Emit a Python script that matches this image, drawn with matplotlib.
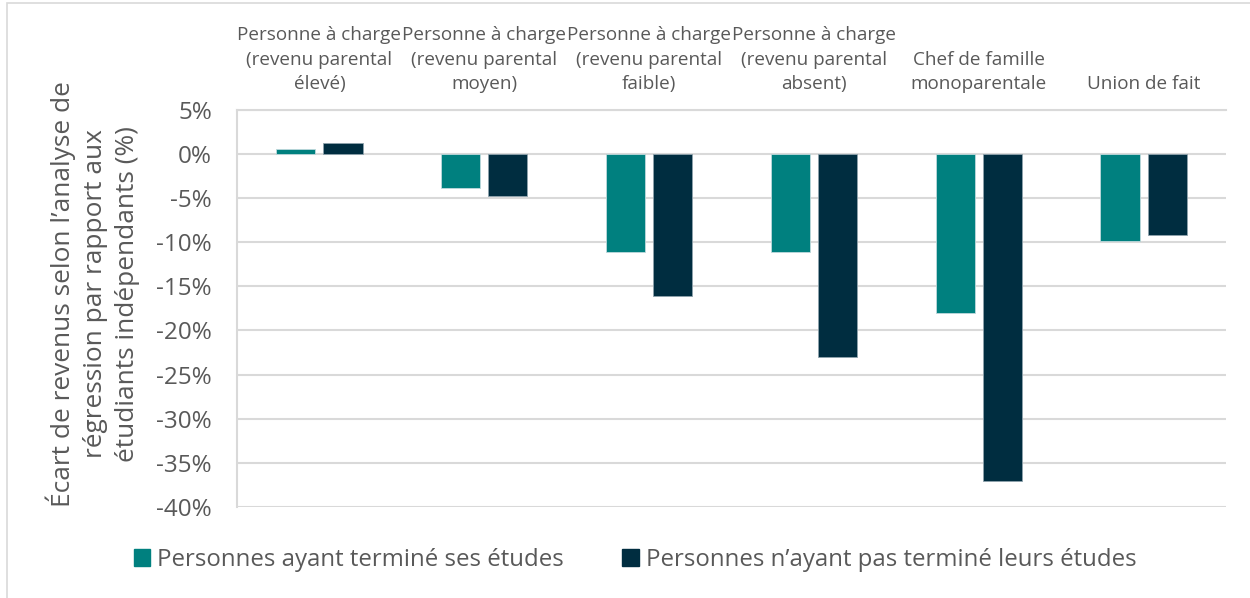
import matplotlib
matplotlib.use("Agg")
import matplotlib.pyplot as plt
import numpy as np
from matplotlib.patches import Patch, Rectangle

plt.rcParams['font.family'] = ['Open Sans', 'DejaVu Sans']

categories = [
    "Personne à charge\n(revenu parental\nélevé)",
    "Personne à charge\n(revenu parental\nmoyen)",
    "Personne à charge\n(revenu parental\nfaible)",
    "Personne à charge\n(revenu parental\nabsent)",
    "Chef de famille\nmonoparentale",
    "Union de fait",
]
series_names = ["Personnes ayant terminé ses études",
                "Personnes n’ayant pas terminé leurs études"]
termine = [0.5, -3.9, -11.1, -11.1, -18.0, -9.9]
non_termine = [1.2, -4.8, -16.1, -23.0, -37.0, -9.2]
yticks = [5, 0, -5, -10, -15, -20, -25, -30, -35, -40]
ytick_labels = ["5%", "0%", "-5%", "-10%", "-15%", "-20%", "-25%", "-30%", "-35%", "-40%"]
ylabel = "Écart de revenus selon l’analyse de\nrégression par rapport aux\nétudiants indépendants (%)"

teal = "#00807F"
dark = "#002D40"
grey_text = "#595959"
grid_c = "#D9D9D9"

fig = plt.figure(figsize=(12.5, 5.98), dpi=100)
ax = fig.add_axes([237/1250, 1-507/598, (1226-237)/1250, (507-109.6)/598])

x = np.arange(len(categories))
w = 0.237
off = 0.143
ax.bar(x - off, termine, width=w, color=teal, edgecolor="#BFD9DC", linewidth=0.6, zorder=3)
ax.bar(x + off, non_termine, width=w, color=dark, edgecolor="#8FA3AD", linewidth=0.6, zorder=3)

ax.set_xlim(-0.5, len(categories) - 0.5)
ax.set_ylim(-40, 5)
ax.set_yticks(yticks)
ax.set_yticklabels(ytick_labels, fontsize=17.5, color=grey_text)
ax.yaxis.grid(True, color=grid_c, linewidth=1.5, zorder=0)
ax.set_axisbelow(True)
ax.tick_params(axis='y', length=0, pad=18)

ax.xaxis.tick_top()
ax.set_xticks(x)
ax.set_xticklabels(categories, fontsize=13.6, color=grey_text, linespacing=1.45)
ax.tick_params(axis='x', length=0, pad=12)

for s in ['right', 'bottom']:
    ax.spines[s].set_visible(False)
for s in ['left', 'top']:
    ax.spines[s].set_color(grid_c)
    ax.spines[s].set_linewidth(1.5)

fig.text(93/1250, 1-294/598, ylabel, rotation=90, ha='center', va='center',
         multialignment='center', fontsize=18.9, color=grey_text, linespacing=1.38)

handles = [Patch(facecolor=teal, edgecolor=teal), Patch(facecolor=dark, edgecolor=dark)]
fig.legend(handles, series_names, loc='center', bbox_to_anchor=(635/1250, 1-560/598),
           ncol=2, frameon=False, fontsize=17.3, labelcolor=grey_text,
           handlelength=0.67, handleheight=0.67, handletextpad=0.3, columnspacing=2.45)

# outer frame
fig.add_artist(Rectangle((7/1250, -0.1), 1.2, 1 - 3/598 + 0.1, transform=fig.transFigure,
                         fill=False, edgecolor="#D9D9D9", linewidth=1.2))

fig.savefig("out.png", dpi=100)
